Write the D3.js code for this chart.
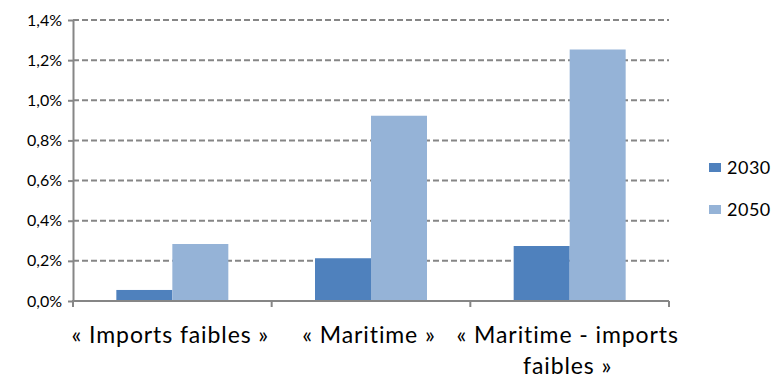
<!DOCTYPE html>
<html>
<head>
<meta charset="utf-8">
<script src="https://cdn.jsdelivr.net/npm/d3@7"></script>
<style>
  html, body { margin: 0; padding: 0; background: #ffffff; }
  svg { display: block; }
  text { font-family: Lato, "Open Sans", sans-serif; fill: #000; }
</style>
</head>
<body>
<svg id="chart" width="772" height="379"></svg>
<script>
// Scenario categories (line breaks where the label wraps)
const categories = ["« Imports faibles »", "« Maritime »", "« Maritime - imports faibles »"];
const categoryLines = [["« Imports faibles »"], ["« Maritime »"], ["« Maritime - imports", "faibles »"]];
const seriesNames = ["2030", "2050"];
// Share values (fraction, 0.01 = 1 %)
const values2030 = [0.00055, 0.00213, 0.00274];
const values2050 = [0.00284, 0.00923, 0.01253];
const yTicks = [0, 0.002, 0.004, 0.006, 0.008, 0.010, 0.012, 0.014];

const colors = { "2030": "#4f81bd", "2050": "#95b3d7" };
const gridColor = "#868686";

const svg = d3.select("#chart");
const plot = { left: 73, right: 669, top: 20, bottom: 301 };

const fr = d3.formatLocale({ decimal: ",", thousands: " ", grouping: [3], currency: ["", " €"] });
const pct = fr.format(".1%");

const x = d3.scaleBand().domain(categories).range([plot.left, plot.right]).paddingInner(0).paddingOuter(0);
const xInner = d3.scaleBand().domain(seriesNames).range([0, x.bandwidth()]).paddingInner(0).paddingOuter(0.774);
const y = d3.scaleLinear().domain([0, 0.014]).range([plot.bottom, plot.top]);

// Horizontal dashed gridlines
svg.append("g")
  .selectAll("line")
  .data(yTicks.filter(d => d > 0))
  .join("line")
  .attr("x1", plot.left).attr("x2", plot.right)
  .attr("y1", d => y(d)).attr("y2", d => y(d))
  .attr("stroke", gridColor).attr("stroke-width", 2)
  .attr("stroke-dasharray", "6,3");

// Bars
const rows = categories.map((c, i) => ({ cat: c, vals: [
  { s: "2030", v: values2030[i] }, { s: "2050", v: values2050[i] }] }));

svg.append("g")
  .selectAll("g")
  .data(rows)
  .join("g")
  .attr("transform", d => `translate(${x(d.cat)},0)`)
  .selectAll("rect")
  .data(d => d.vals)
  .join("rect")
  .attr("x", d => xInner(d.s))
  .attr("width", xInner.bandwidth())
  .attr("y", d => y(d.v))
  .attr("height", d => y(0) - y(d.v))
  .attr("fill", d => colors[d.s]);

// Y axis
const yAxis = svg.append("g")
  .attr("transform", `translate(${plot.left},0)`)
  .call(d3.axisLeft(y).tickValues(yTicks).tickFormat(pct).tickSize(5).tickSizeOuter(0));
yAxis.select(".domain").attr("stroke", gridColor).attr("stroke-width", 2);
yAxis.selectAll(".tick line").attr("stroke", gridColor).attr("stroke-width", 2);
yAxis.selectAll(".tick text")
  .attr("x", -11)
  .style("font-size", "16px")
  .style("font-family", "Lato, sans-serif")
  .attr("fill", "#000");

// X axis with tick marks at category boundaries
const xAxisG = svg.append("g").attr("transform", `translate(0,${plot.bottom})`);
xAxisG.append("line")
  .attr("x1", plot.left - 1).attr("x2", plot.right)
  .attr("stroke", gridColor).attr("stroke-width", 2);
const boundaries = categories.map(c => x(c)).concat([x(categories[categories.length - 1]) + x.bandwidth()]);
xAxisG.selectAll("line.tk")
  .data(boundaries)
  .join("line")
  .attr("class", "tk")
  .attr("x1", d => d).attr("x2", d => d)
  .attr("y1", 0).attr("y2", 6)
  .attr("stroke", gridColor).attr("stroke-width", 2);

// Category labels
const labels = svg.append("g")
  .selectAll("text")
  .data(categories)
  .join("text")
  .attr("x", d => x(d) + x.bandwidth() / 2 - 2)
  .attr("y", 343)
  .attr("text-anchor", "middle")
  .style("font-size", "23px")
  .style("letter-spacing", "0.9px");
labels.selectAll("tspan")
  .data((d, i) => categoryLines[i])
  .join("tspan")
  .attr("x", function () { return d3.select(this.parentNode).attr("x"); })
  .attr("dy", (d, i) => i === 0 ? 0 : 31)
  .text(d => d);

// Legend
const legend = svg.append("g")
  .selectAll("g")
  .data(seriesNames)
  .join("g")
  .attr("transform", (d, i) => `translate(709,${163 + i * 42})`);
legend.append("rect")
  .attr("width", 12).attr("height", 9)
  .attr("fill", d => colors[d]);
legend.append("text")
  .attr("x", 18).attr("y", 11)
  .style("font-size", "18px")
  .style("letter-spacing", "0.5px")
  .text(d => d);
</script>
</body>
</html>
